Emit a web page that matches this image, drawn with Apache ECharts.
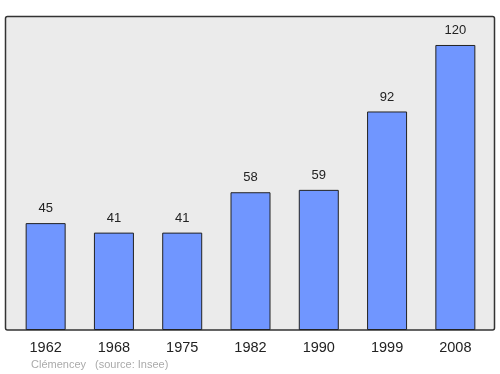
<!DOCTYPE html>
<html><head><meta charset="utf-8">
<script src="https://cdn.jsdelivr.net/npm/echarts@6/dist/echarts.min.js"></script>
<style>html,body{margin:0;padding:0;background:#fff}#c{width:500px;height:374px}</style>
</head><body><div id="c"></div>
<script>
const years = ['1962','1968','1975','1982','1990','1999','2008'];
const population = [45, 41, 41, 58, 59, 92, 120];
const commune = 'Clémencey';
const source = '(source: Insee)';
const FONT = '"Liberation Sans", Arial, sans-serif';

const chart = echarts.init(document.getElementById('c'), null, {renderer:'canvas'});
chart.setOption({
  animation: false,
  backgroundColor: '#fff',
  grid: {left: 11.5, right: 10.5, top: 16, bottom: 44, containLabel: false},
  xAxis: {
    type: 'category', data: years,
    axisLine: {show: false}, axisTick: {show: false},
    axisLabel: {fontSize: 14.5, color: '#222', margin: 10, fontFamily: FONT}
  },
  yAxis: {type: 'value', min: 0, max: 132.2, show: false, splitLine: {show: false}},
  graphic: [
    {type: 'rect', z: -10, silent: true,
     shape: {x: 5.5, y: 16.5, width: 489, height: 313.5, r: 2},
     style: {fill: '#ebebeb', stroke: '#333', lineWidth: 1.5}},
    {type: 'text', x: 31, y: 365, style: {x: 0, y: 0, text: commune, fill: '#aaa', fontSize: 11, fontFamily: FONT, textVerticalAlign: 'middle', textAlign: 'left'}},
    {type: 'text', x: 95, y: 365, style: {x: 0, y: 0, text: source, fill: '#aaa', fontSize: 11, fontFamily: FONT, textVerticalAlign: 'middle', textAlign: 'left'}}
  ],
  series: [{
    type: 'bar', data: population, barWidth: 40,
    itemStyle: {color: '#7096ff', borderColor: '#222', borderWidth: 1},
    label: {show: true, position: 'top', distance: 8, fontSize: 13, color: '#222', fontFamily: FONT}
  }]
});
</script></body></html>
